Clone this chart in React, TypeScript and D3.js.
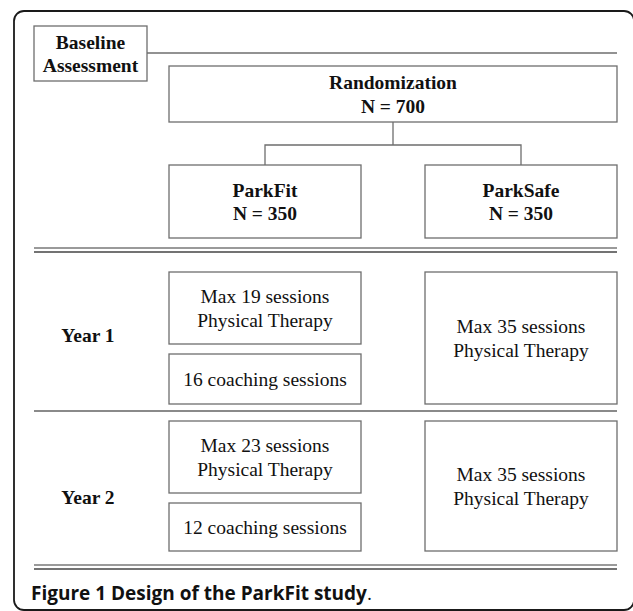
import React from "react";
import * as d3 from "d3";

// study design data
const arms = ["ParkFit", "ParkSafe"];
const armN = [350, 350];
const totalN = 700;
const years = ["Year 1", "Year 2"];
const parkFitPT = [19, 23];
const parkFitCoaching = [16, 12];
const parkSafePT = [35, 35];
const caption = "Figure 1 Design of the ParkFit study";

const W = 633;
const H = 611;
const serif = "'Liberation Serif', 'Times New Roman', serif";
const boxStroke = "#6e6e6e";

// row layout for the two years
const yearRows = [
  { top: 272, ptBottom: 344, coachTop: 354, bottom: 404, label: 335 },
  { top: 421, ptBottom: 493, coachTop: 503, bottom: 551, label: 497 },
];

const Box = ({ x, y, w, h, lines, bold }: any) => {
  const cy = y + h / 2;
  const lh = 23.5;
  return (
    <g>
      <rect x={x} y={y} width={w} height={h} fill="#fff" stroke={boxStroke} strokeWidth={1.3} />
      {lines.map((t: string, i: number) => (
        <text
          key={i}
          x={x + w / 2}
          y={cy + (i - (lines.length - 1) / 2) * lh}
          dy="0.35em"
          textAnchor="middle"
          fontFamily={serif}
          fontSize={19.5}
          fontWeight={bold ? "bold" : "normal"}
          fill="#111"
        >
          {t}
        </text>
      ))}
    </g>
  );
};

const DoubleLine = ({ y }: { y: number }) => (
  <g>
    <line x1={34} x2={617} y1={y} y2={y} stroke="#9a9a9a" strokeWidth={2} />
    <line x1={34} x2={617} y1={y + 4} y2={y + 4} stroke="#444" strokeWidth={1.4} />
  </g>
);

export default function App() {
  const x = d3.scaleBand().domain(arms).range([169, 617]).paddingInner(0.25).paddingOuter(0);
  const bw = x.bandwidth();
  const cx = (a: string) => (x(a) as number) + bw / 2;
  const randMid = (169 + 617) / 2;

  return (
    <svg width={W} height={H} style={{ position: "absolute", left: 0, top: 0 }}>
      <rect x={0} y={0} width={W} height={H} fill="#fff" />
      {/* outer frame */}
      <rect x={14} y={11} width={620} height={599} rx={10} fill="none" stroke="#1a1a1a" strokeWidth={1.8} />

      {/* baseline */}
      <line x1={147} x2={617} y1={53} y2={53} stroke={boxStroke} strokeWidth={1.3} />
      <Box x={34} y={26} w={113} h={55} lines={["Baseline", "Assessment"]} bold />

      {/* randomization */}
      <Box x={169} y={66} w={448} h={56} lines={["Randomization", `N = ${totalN}`]} bold />
      <path
        d={`M${randMid},122V145M${cx(arms[0])},165V145H${cx(arms[1])}V165`}
        fill="none"
        stroke={boxStroke}
        strokeWidth={1.3}
      />
      {arms.map((a, i) => (
        <Box key={a} x={x(a)} y={165} w={bw} h={73} lines={[a, `N = ${armN[i]}`]} bold />
      ))}

      <DoubleLine y={248} />

      {years.map((yr, i) => {
        const r = yearRows[i];
        return (
          <g key={yr}>
            <text x={88} y={r.label} dy="0.35em" textAnchor="middle" fontFamily={serif} fontSize={19.5} fontWeight="bold" fill="#111">
              {yr}
            </text>
            <Box
              x={x(arms[0])}
              y={r.top}
              w={bw}
              h={r.ptBottom - r.top}
              lines={[`Max ${parkFitPT[i]} sessions`, "Physical Therapy"]}
            />
            <Box
              x={x(arms[0])}
              y={r.coachTop}
              w={bw}
              h={r.bottom - r.coachTop}
              lines={[`${parkFitCoaching[i]} coaching sessions`]}
            />
            <Box
              x={x(arms[1])}
              y={r.top}
              w={bw}
              h={r.bottom - r.top}
              lines={[`Max ${parkSafePT[i]} sessions`, "Physical Therapy"]}
            />
          </g>
        );
      })}

      <line x1={34} x2={617} y1={411} y2={411} stroke="#8a8a8a" strokeWidth={2} />
      <DoubleLine y={565} />

      <text x={31} y={600} fontFamily="'Open Sans', sans-serif" fontSize={19} fill="#111">
        <tspan fontWeight="bold">{caption}</tspan>
        <tspan>.</tspan>
      </text>
    </svg>
  );
}
